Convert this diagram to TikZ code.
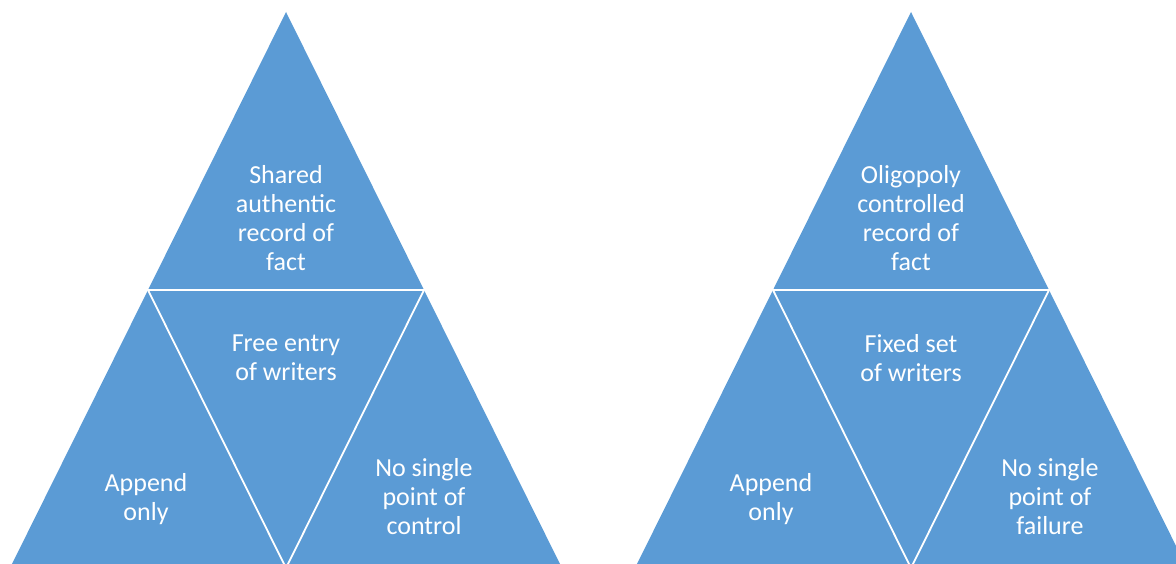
\documentclass[tikz,border=0pt]{standalone}
\usepackage{fontspec}
\setmainfont{Carlito}
\definecolor{tri}{HTML}{5B9BD5}
\begin{document}
\begin{tikzpicture}[x=1pt,y=-1pt,
  lbl/.style={text=white,align=center,font=\fontsize{26}{29}\selectfont,inner sep=0pt},
  divider/.style={draw=white,line width=1.8pt}]
\useasboundingbox (0,0) rectangle (1176,564);
\clip (0,0) rectangle (1176,564);
% left triangle
\coordinate (lA) at (286,12);
\coordinate (lL) at (10,568);
\coordinate (lR) at (562,568);
\coordinate (lML) at (148,290);
\coordinate (lMR) at (424,290);
\coordinate (lMB) at (286,568);
\fill[tri] (lA) -- (lL) -- (lR) -- cycle;
\draw[divider] (lML) -- (lMR) -- (lMB) -- cycle;
\node[lbl] (lt) at (286,218) {Shared\\authentic\\record of\\fact};
\node[lbl] (lc) at (286,358) {Free entry\\of writers};
\node[lbl] (ll) at (146,499) {Append\\only};
\node[lbl] (lr) at (424,497) {No single\\point of\\control};
% right triangle
\coordinate (rA) at (911,12);
\coordinate (rL) at (635,568);
\coordinate (rR) at (1187,568);
\coordinate (rML) at (773,290);
\coordinate (rMR) at (1049,290);
\coordinate (rMB) at (911,568);
\fill[tri] (rA) -- (rL) -- (rR) -- cycle;
\draw[divider] (rML) -- (rMR) -- (rMB) -- cycle;
\node[lbl] (rt) at (911,218) {Oligopoly\\controlled\\record of\\fact};
\node[lbl] (rc) at (911,358) {Fixed set\\of writers};
\node[lbl] (rl) at (771,499) {Append\\only};
\node[lbl] (rr) at (1050,497) {No single\\point of\\failure};
\end{tikzpicture}
\end{document}
